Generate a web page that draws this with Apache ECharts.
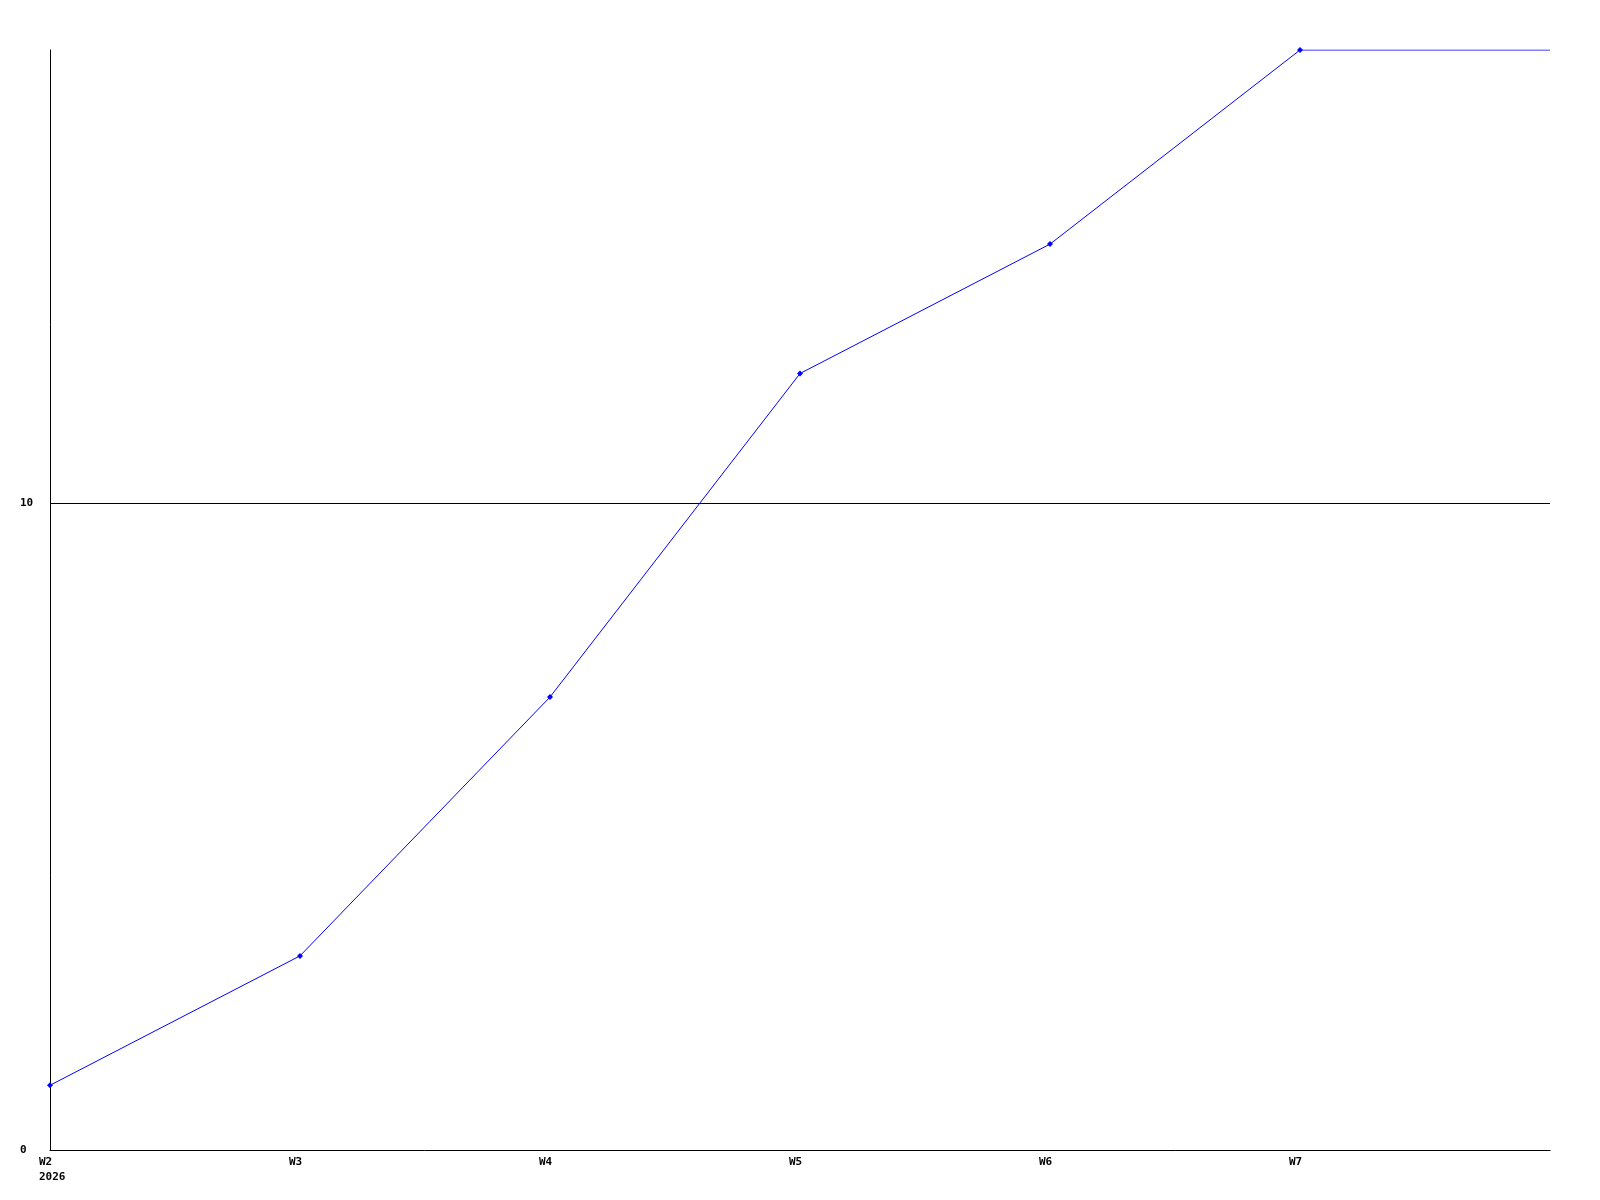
<!DOCTYPE html>
<html>
<head>
<meta charset="utf-8">
<style>
html,body{margin:0;padding:0;background:#fff;}
#chart{width:1600px;height:1200px;}
</style>
<script src="https://cdn.jsdelivr.net/npm/echarts@6/dist/echarts.min.js"></script>
</head>
<body>
<div id="chart"></div>
<script>
const categories = ['W2', 'W3', 'W4', 'W5', 'W6', 'W7', 'W8'];
const categoryLabels = ['W2\n2026', 'W3', 'W4', 'W5', 'W6', 'W7', ''];
const values = [1, 3, 7, 12, 14, 17, 17];
const markerShown = [true, true, true, true, true, true, false];
const yTicks = { min: 0, max: 17, interval: 10 };

const font = '"DejaVu Sans Mono", monospace';
const chart = echarts.init(document.getElementById('chart'), null, { renderer: 'canvas' });
chart.setOption({
  animation: false,
  backgroundColor: '#ffffff',
  grid: { left: 50, right: 50, top: 50, bottom: 50, containLabel: false },
  xAxis: {
    type: 'category',
    data: categories,
    boundaryGap: false,
    axisLine: { show: true, lineStyle: { color: '#000', width: 1 } },
    axisTick: { show: false },
    splitLine: { show: false },
    axisLabel: {
      show: true,
      interval: 0,
      formatter: function (v, i) { return categoryLabels[i]; },
      align: 'left',
      padding: [0, 0, 0, -11],
      margin: 5,
      lineHeight: 15,
      color: '#000',
      fontFamily: font,
      fontWeight: 'bold',
      fontSize: 11
    }
  },
  yAxis: {
    type: 'value',
    min: yTicks.min,
    max: yTicks.max,
    interval: yTicks.interval,
    axisLine: { show: true, lineStyle: { color: '#000', width: 1 } },
    axisTick: { show: false },
    splitLine: { show: true, showMinLine: false, showMaxLine: false, lineStyle: { color: '#000', width: 1 } },
    axisLabel: {
      show: true,
      showMaxLabel: false,
      align: 'left',
      margin: 30,
      color: '#000',
      fontFamily: font,
      fontWeight: 'bold',
      fontSize: 11
    }
  },
  series: [{
    type: 'line',
    data: values.map(function (v, i) {
      return markerShown[i] ? { value: v } : { value: v, symbol: 'none' };
    }),
    symbol: 'diamond',
    symbolSize: 6,
    showSymbol: true,
    lineStyle: { color: '#0000ff', width: 1 },
    itemStyle: { color: '#0000ff' },
    emphasis: { disabled: true }
  }]
});
</script>
</body>
</html>
